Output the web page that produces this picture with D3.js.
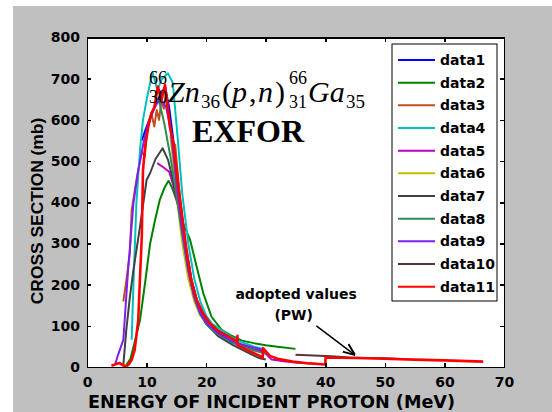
<!DOCTYPE html>
<html lang="en">
<head>
  <meta charset="UTF-8">
  <title>Zn66(p,n)Ga66</title>
  <script src="https://d3js.org/d3.v7.min.js"></script>
  <style>
    body { margin: 0; background: #fff; }
    .axis path, .axis line { fill: none; stroke: #000; stroke-width: 1.5; shape-rendering: crispEdges; }
    .axis text { font-family: "DejaVu Sans", sans-serif; font-size: 14px; font-weight: bold; fill: #000; }
    .leg text { font-family: "DejaVu Sans", sans-serif; font-size: 14px; font-weight: bold; }
  </style>
</head>
<body>
  <svg id="svg" width="552" height="412"></svg>
  <script>
    // series (energy in MeV, cross section in mb)
    var names = ['data1','data2','data3','data4','data5','data6','data7','data8','data9','data10','data11']
    var colors = ['#0000ff','#008000','#c0501a','#00bfbf','#bf00bf','#bfbf00','#404040','#2e8b57','#7f1fef','#5a3535','#ff0000']

    var e1  = [9.2, 9.8, 10.4, 10.8, 11.6, 12.3, 13.1, 13.8, 14.5, 15.5, 16.5, 17.5, 18.5, 20, 22, 24, 26, 28, 30]
    var cs1 = [550, 575, 598, 612, 642, 660, 680, 630, 550, 420, 300, 215, 160, 115, 85, 65, 52, 42, 35]

    var e2  = [6.6, 7.3, 8, 8.9, 9.8, 10.6, 11.4, 12.2, 13, 13.7, 14.3, 15, 16.1, 17.3, 18.4, 19.5, 20.9, 22.6, 24, 26, 28, 30, 32, 35]
    var cs2 = [5, 20, 60, 114, 210, 300, 355, 405, 435, 452, 435, 406, 350, 309, 244, 180, 122, 90, 78, 64, 58, 53, 49, 44]

    var e3  = [6.1, 6.7, 7.2, 7.5, 8.3, 9.2, 9.7, 10.1, 10.8, 11.3, 11.7, 12.1, 12.5, 12.9, 13.3, 13.8, 14.4, 14.8, 15.5, 16.5, 17.5, 18.5, 20, 21.5]
    var cs3 = [159, 220, 277, 381, 454, 523, 511, 576, 616, 584, 624, 600, 648, 627, 665, 600, 543, 540, 430, 300, 215, 155, 112, 90]

    var e4  = [7.5, 7.8, 8.3, 8.9, 9.4, 10.1, 11, 11.8, 12.6, 13.6, 14.4, 15.2, 16, 17, 18, 19, 20, 21, 22.5, 24, 26, 28, 29.5]
    var cs4 = [66, 200, 400, 527, 600, 656, 716, 673, 700, 713, 690, 560, 420, 300, 215, 160, 125, 105, 90, 75, 60, 50, 44]

    var e5  = [11.8, 12.8, 13.8, 14.5, 15.5, 16.5, 17.5, 18.6, 20, 22, 24, 26, 28, 29.5, 31, 33, 35, 37, 39]
    var cs5 = [495, 485, 474, 440, 380, 290, 210, 150, 110, 80, 62, 50, 42, 40, 18, 14, 11, 9, 7]

    var e6  = [14, 15, 16, 17, 18, 19, 20]
    var cs6 = [560, 420, 300, 215, 160, 125, 105]

    var e7  = [6.1, 6.6, 7.2, 7.8, 8.9, 10, 10.6, 11.5, 12.7, 13.6, 14.5, 15.5, 16.5, 17.5, 18.5, 20, 22, 24.5, 27, 29, 30]
    var cs7 = [5, 90, 170, 236, 341, 454, 471, 505, 531, 503, 450, 380, 285, 200, 150, 105, 75, 53, 35, 21, 18]

    var e8  = [11.4, 12.2, 13, 14, 15, 16, 17, 18, 19, 20, 21, 22.5, 24, 26, 28, 30]
    var cs8 = [656, 640, 590, 510, 420, 320, 235, 170, 130, 105, 90, 75, 62, 50, 40, 32]

    var e9  = [4.7, 5.2, 6.1, 6.9, 7.8, 8.6, 9.5, 10.3, 11.2, 11.9, 12.6, 13.3, 14, 15, 16, 17, 18, 19, 20, 22, 24, 26, 28, 29.5]
    var cs9 = [5, 29, 66, 236, 398, 478, 545, 592, 625, 644, 646, 630, 580, 450, 330, 235, 170, 130, 108, 82, 65, 55, 47, 42]

    var e10  = [35, 38, 41, 44, 47, 50, 52]
    var cs10 = [30, 28, 26, 23, 22, 21, 20]

    var e11  = [4.1, 5.0, 5.5, 6.0, 6.6, 7.0, 7.5, 8.0, 8.6, 8.9, 9.2, 9.4, 9.8, 10.3, 10.8, 11.3, 11.9, 12.5, 13.1, 13.9, 14.5, 15.6, 16.7, 17.5, 18.4, 19.5, 20.6, 22, 24, 25.2, 25.25, 25.3, 27, 29, 29.5, 29.55, 30.7, 32, 34.5, 37, 40, 40.05, 45, 50, 55, 60, 66.5]
    var cs11 = [3, 8, 10, 4, 2, 6, 17, 41, 114, 219, 317, 478, 540, 584, 616, 630, 681, 648, 685, 584, 544, 405, 284, 210, 163, 130, 107, 88, 72, 62, 76, 53, 40, 27, 22, 46, 27, 20, 13, 9, 6, 23, 22, 20, 18, 16, 13]

    var energies = [e1, e2, e3, e4, e5, e6, e7, e8, e9, e10, e11]
    var sections = [cs1, cs2, cs3, cs4, cs5, cs6, cs7, cs8, cs9, cs10, cs11]

    var xTicks = [0, 10, 20, 30, 40, 50, 60, 70]
    var yTicks = [0, 100, 200, 300, 400, 500, 600, 700, 800]

    var box = { left: 87, right: 504, top: 37.5, bottom: 367 }

    var x = d3.scaleLinear().domain([0, 70]).range([box.left, box.right])
    var y = d3.scaleLinear().domain([0, 800]).range([box.bottom, box.top])

    var svg = d3.select('#svg')

    // grey figure background + white axes area
    svg.append('rect').attr('x', 13).attr('y', 6).attr('width', 539).attr('height', 406).attr('fill', '#c0c0c0')
    svg.append('rect').attr('x', box.left).attr('y', box.top)
      .attr('width', box.right - box.left).attr('height', box.bottom - box.top).attr('fill', '#fff')

    svg.append('clipPath').attr('id', 'clip').append('rect')
      .attr('x', box.left).attr('y', box.top)
      .attr('width', box.right - box.left).attr('height', box.bottom - box.top)

    var line = d3.line().x(d => x(d[0])).y(d => y(d[1]))
    var plot = svg.append('g').attr('clip-path', 'url(#clip)')

    names.forEach((n, i) => {
      var pts = energies[i].map((e, j) => [e, sections[i][j]])
      plot.append('path')
        .datum(pts)
        .attr('d', line)
        .attr('fill', 'none')
        .attr('stroke', colors[i])
        .attr('stroke-width', i == 10 ? 2.6 : 2)
        .attr('stroke-linejoin', 'round')
    })

    // axes, ticks inside on all four sides
    svg.append('g').attr('class', 'axis')
      .attr('transform', 'translate(0,' + box.bottom + ')')
      .call(d3.axisBottom(x).tickValues(xTicks).tickSize(-4).tickPadding(10))
    svg.append('g').attr('class', 'axis')
      .attr('transform', 'translate(' + box.left + ',0)')
      .call(d3.axisLeft(y).tickValues(yTicks).tickSize(-4).tickPadding(7))
    svg.append('g').attr('class', 'axis')
      .attr('transform', 'translate(0,' + box.top + ')')
      .call(d3.axisTop(x).tickValues(xTicks).tickSize(-4).tickFormat(''))
    svg.append('g').attr('class', 'axis')
      .attr('transform', 'translate(' + box.right + ',0)')
      .call(d3.axisRight(y).tickValues(yTicks).tickSize(-4).tickFormat(''))

    // axis titles
    svg.append('text')
      .attr('x', 88).attr('y', 408)
      .attr('font-family', '"DejaVu Sans", sans-serif').attr('font-weight', 'bold').attr('font-size', 17.5)
      .attr('textLength', 367).attr('lengthAdjust', 'spacingAndGlyphs')
      .text('ENERGY OF INCIDENT PROTON (MeV)')
    svg.append('text')
      .attr('transform', 'translate(43,211) rotate(-90)')
      .attr('text-anchor', 'middle')
      .attr('font-family', '"Liberation Sans", Arial, sans-serif').attr('font-weight', 'bold').attr('font-size', 17.4)
      .text('CROSS SECTION (mb)')

    // reaction label
    var serif = '"Liberation Serif", "Times New Roman", serif'
    var f = svg.append('g').attr('font-family', serif).attr('fill', '#000')
    var parts = [
      ['66', 149, 84, 18, 'normal'], ['30', 149, 103, 18, 'normal'],
      ['Zn', 168, 102, 30, 'italic'], ['36', 201, 108, 19, 'normal'],
      ['(', 222, 102, 30, 'normal'], ['p', 232, 102, 30, 'italic'], [',', 249, 102, 30, 'normal'],
      ['n', 258, 102, 30, 'italic'], [')', 275, 102, 30, 'normal'],
      ['66', 289, 84, 18, 'normal'], ['31', 289, 108, 18, 'normal'],
      ['Ga', 308, 102, 30, 'italic'], ['35', 346, 108, 19, 'normal']
    ]
    parts.forEach(p => {
      f.append('text').attr('x', p[1]).attr('y', p[2]).attr('font-size', p[3])
        .attr('font-style', p[4]).text(p[0])
    })
    svg.append('text')
      .attr('x', 192).attr('y', 141.5)
      .attr('font-family', serif).attr('font-weight', 'bold').attr('font-size', 32)
      .text('EXFOR')

    // annotation with arrow
    svg.append('defs').append('marker')
      .attr('id', 'head').attr('viewBox', '0 0 10 10').attr('refX', 10).attr('refY', 5)
      .attr('markerWidth', 8).attr('markerHeight', 8).attr('orient', 'auto')
      .append('path').attr('d', 'M0,1 L10,5 L0,9').attr('fill', 'none').attr('stroke', '#000').attr('stroke-width', 1.6)
    svg.append('line')
      .attr('x1', x(38.5)).attr('y1', y(100)).attr('x2', x(45)).attr('y2', y(29))
      .attr('stroke', '#000').attr('stroke-width', 1.5).attr('marker-end', 'url(#head)')
    var ann = svg.append('g').attr('font-family', '"DejaVu Sans", sans-serif').attr('font-weight', 'bold')
      .attr('font-size', 14).attr('text-anchor', 'middle')
    ann.append('text').attr('x', x(35.1)).attr('y', 298.5).text('adopted values')
    ann.append('text').attr('x', x(34.7)).attr('y', 320).text('(PW)')

    // legend
    var leg = svg.append('g').attr('class', 'leg')
    leg.append('rect').attr('x', 392).attr('y', 44).attr('width', 105).attr('height', 257)
      .attr('fill', '#fff').attr('stroke', '#000').attr('stroke-width', 1)
    names.forEach((n, i) => {
      var ly = 60 + i * 22.67
      leg.append('line').attr('x1', 398).attr('x2', 435).attr('y1', ly).attr('y2', ly)
        .attr('stroke', colors[i]).attr('stroke-width', 2)
      leg.append('text').attr('x', 440).attr('y', ly + 5).text(n)
    })
  </script>
</body>
</html>
